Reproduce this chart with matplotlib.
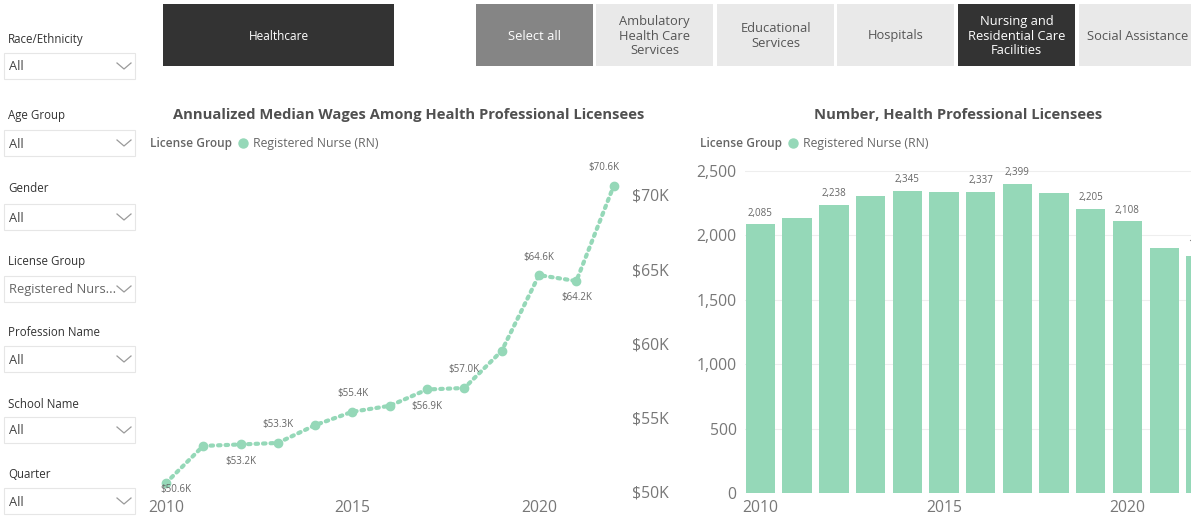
import matplotlib
matplotlib.use("Agg")
import matplotlib.pyplot as plt
from matplotlib.patches import Rectangle
from matplotlib.ticker import FuncFormatter

# ---- data ----
years = list(range(2010, 2023))
wages_k = [50.6, 53.1, 53.2, 53.3, 54.5, 55.4, 55.8, 56.9, 57.0, 59.5, 64.6, 64.2, 70.6]
wage_labels_above = [2013, 2015, 2018, 2020, 2022]
wage_labels_below = [2010, 2012, 2017, 2021]

licensees = [2085, 2135, 2238, 2305, 2345, 2340, 2337, 2399, 2325, 2205, 2108, 1900, 1840]
licensee_labeled = [2010, 2012, 2014, 2016, 2017, 2019, 2020, 2022]

slicer_names = ["Race/Ethnicity", "Age Group", "Gender", "License Group",
                "Profession Name", "School Name", "Quarter"]
slicer_values = ["All", "All", "All", "Registered Nurs...", "All", "All", "All"]

sector_buttons = ["Select all", "Ambulatory\nHealth Care\nServices", "Educational\nServices",
                  "Hospitals", "Nursing and\nResidential Care\nFacilities", "Social Assistance"]
selected_sector = "Nursing and\nResidential Care\nFacilities"

W, H = 1191, 518
GREEN = "#95d8b8"
GRAY_TXT = "#666666"
plt.rcParams['font.family'] = ['Open Sans', 'DejaVu Sans']

fig = plt.figure(figsize=(W / 100, H / 100), dpi=100)
fig.set_facecolor("white")


def px_axes(l, t, r, b):
    return fig.add_axes([l / W, 1 - b / H, (r - l) / W, (b - t) / H])


# overlay in pixel coordinates for the slicers, buttons, titles
ov = px_axes(0, 0, W, H)
ov.set_xlim(0, W)
ov.set_ylim(H, 0)
ov.axis("off")

# left slicers
label_y = [40, 116, 189, 262, 332, 404, 475]
box_top = [53, 130, 204, 276, 346, 417, 488]
for name, val, ly, bt in zip(slicer_names, slicer_values, label_y, box_top):
    ov.text(8, ly, name, fontsize=8.3, color="#333333", va="center", ha="left")
    ov.add_patch(Rectangle((4, bt), 131, 26, facecolor="white", edgecolor="#e6e6e6", lw=0.8))
    ov.text(9, bt + 14, val, fontsize=9.3, color="#666666" if val != "All" else "#444444",
            va="center", ha="left")
    ov.plot([117, 124, 131], [bt + 10, bt + 16, bt + 10], color="#9a9a9a", lw=0.9)

# top buttons
ov.add_patch(Rectangle((163, 4), 231, 62, facecolor="#333333", edgecolor="none"))
ov.text(278.5, 36, "Healthcare", fontsize=8.5, color="white", ha="center", va="center")

btn_left = [476, 596, 717, 837, 958, 1079]
btn_width = 117
for name, bl in zip(sector_buttons, btn_left):
    if name == "Select all":
        fc, tc = "#858585", "white"
    elif name == selected_sector:
        fc, tc = "#333333", "white"
    else:
        fc, tc = "#e9e9e9", "#555555"
    ov.add_patch(Rectangle((bl, 4), btn_width, 62, facecolor=fc, edgecolor="none"))
    ov.text(bl + btn_width / 2, 36, name, fontsize=9.3, color=tc, ha="center", va="center",
            linespacing=1.15)

# chart titles and legends
ov.text(409, 115, "Annualized Median Wages Among Health Professional Licensees",
        fontsize=10.6, fontweight="bold", color="#505050", ha="center", va="center")
ov.text(958, 115, "Number, Health Professional Licensees",
        fontsize=10.6, fontweight="bold", color="#505050", ha="center", va="center")
for lx in (150, 700):
    ov.text(lx, 143, "License Group", fontsize=8.6, fontweight="semibold", color=GRAY_TXT,
            ha="left", va="center")
    ov.plot([lx + 93], [143], "o", color=GREEN, ms=6.5)
    ov.text(lx + 103, 143, "Registered Nurse (RN)", fontsize=8.8, color=GRAY_TXT,
            ha="left", va="center")

# ---- line chart: median wages ----
ax1 = px_axes(145, 160, 620, 493)
ax1.plot(years, wages_k, color=GREEN, lw=3, linestyle=(0, (0.6, 1.2)),
         dash_capstyle="round", marker="o", ms=6, zorder=3)
ax1.set_xlim(2009.44, 2022.17)
ax1.set_ylim(49.93, 72.35)
ax1.yaxis.tick_right()
ax1.set_yticks([50, 55, 60, 65, 70])
ax1.yaxis.set_major_formatter(FuncFormatter(lambda v, p: f"${v:.0f}K"))
ax1.set_xticks([2010, 2015, 2020])
ax1.tick_params(axis="y", length=0, pad=9, labelsize=11.3, labelcolor="#777777")
ax1.tick_params(axis="x", length=0, pad=5, labelsize=11.3, labelcolor="#777777")
for s in ax1.spines.values():
    s.set_visible(False)
ax1.patch.set_alpha(0)
for yr, w in zip(years, wages_k):
    if yr in wage_labels_above:
        dx = -7 if yr == 2022 else 0
        ax1.annotate(f"${w:.1f}K", (yr, w), xytext=(dx, 9), textcoords="offset points",
                     ha="center", va="bottom", fontsize=7, color=GRAY_TXT)
    elif yr in wage_labels_below:
        dx, dy = (7, -1) if yr == 2010 else (0, -8)
        ax1.annotate(f"${w:.1f}K", (yr, w), xytext=(dx, dy), textcoords="offset points",
                     ha="center", va="top", fontsize=7, color=GRAY_TXT)

# ---- bar chart: number of licensees ----
ax2 = px_axes(745, 160, W, 493)
ax2.bar(years, licensees, width=0.8, color=GREEN, zorder=2)
ax2.set_xlim(2009.58, 2021.73)
ax2.set_ylim(0, 2585)
ax2.set_yticks([0, 500, 1000, 1500, 2000, 2500])
ax2.yaxis.set_major_formatter(FuncFormatter(lambda v, p: f"{v:,.0f}"))
ax2.set_xticks([2010, 2015, 2020])
ax2.grid(axis="y", color="#eeeeee", lw=0.8, zorder=0)
ax2.tick_params(axis="y", length=0, pad=6, labelsize=11.3, labelcolor="#777777")
ax2.tick_params(axis="x", length=0, pad=5, labelsize=11.3, labelcolor="#777777")
for s in ax2.spines.values():
    s.set_visible(False)
for yr, n in zip(years, licensees):
    if yr in licensee_labeled:
        ax2.annotate(f"{n:,}", (yr, n), xytext=(0, 4), textcoords="offset points",
                     ha="center", va="bottom", fontsize=7, color=GRAY_TXT, annotation_clip=False)

fig.savefig("out.png", dpi=100, facecolor="white")
